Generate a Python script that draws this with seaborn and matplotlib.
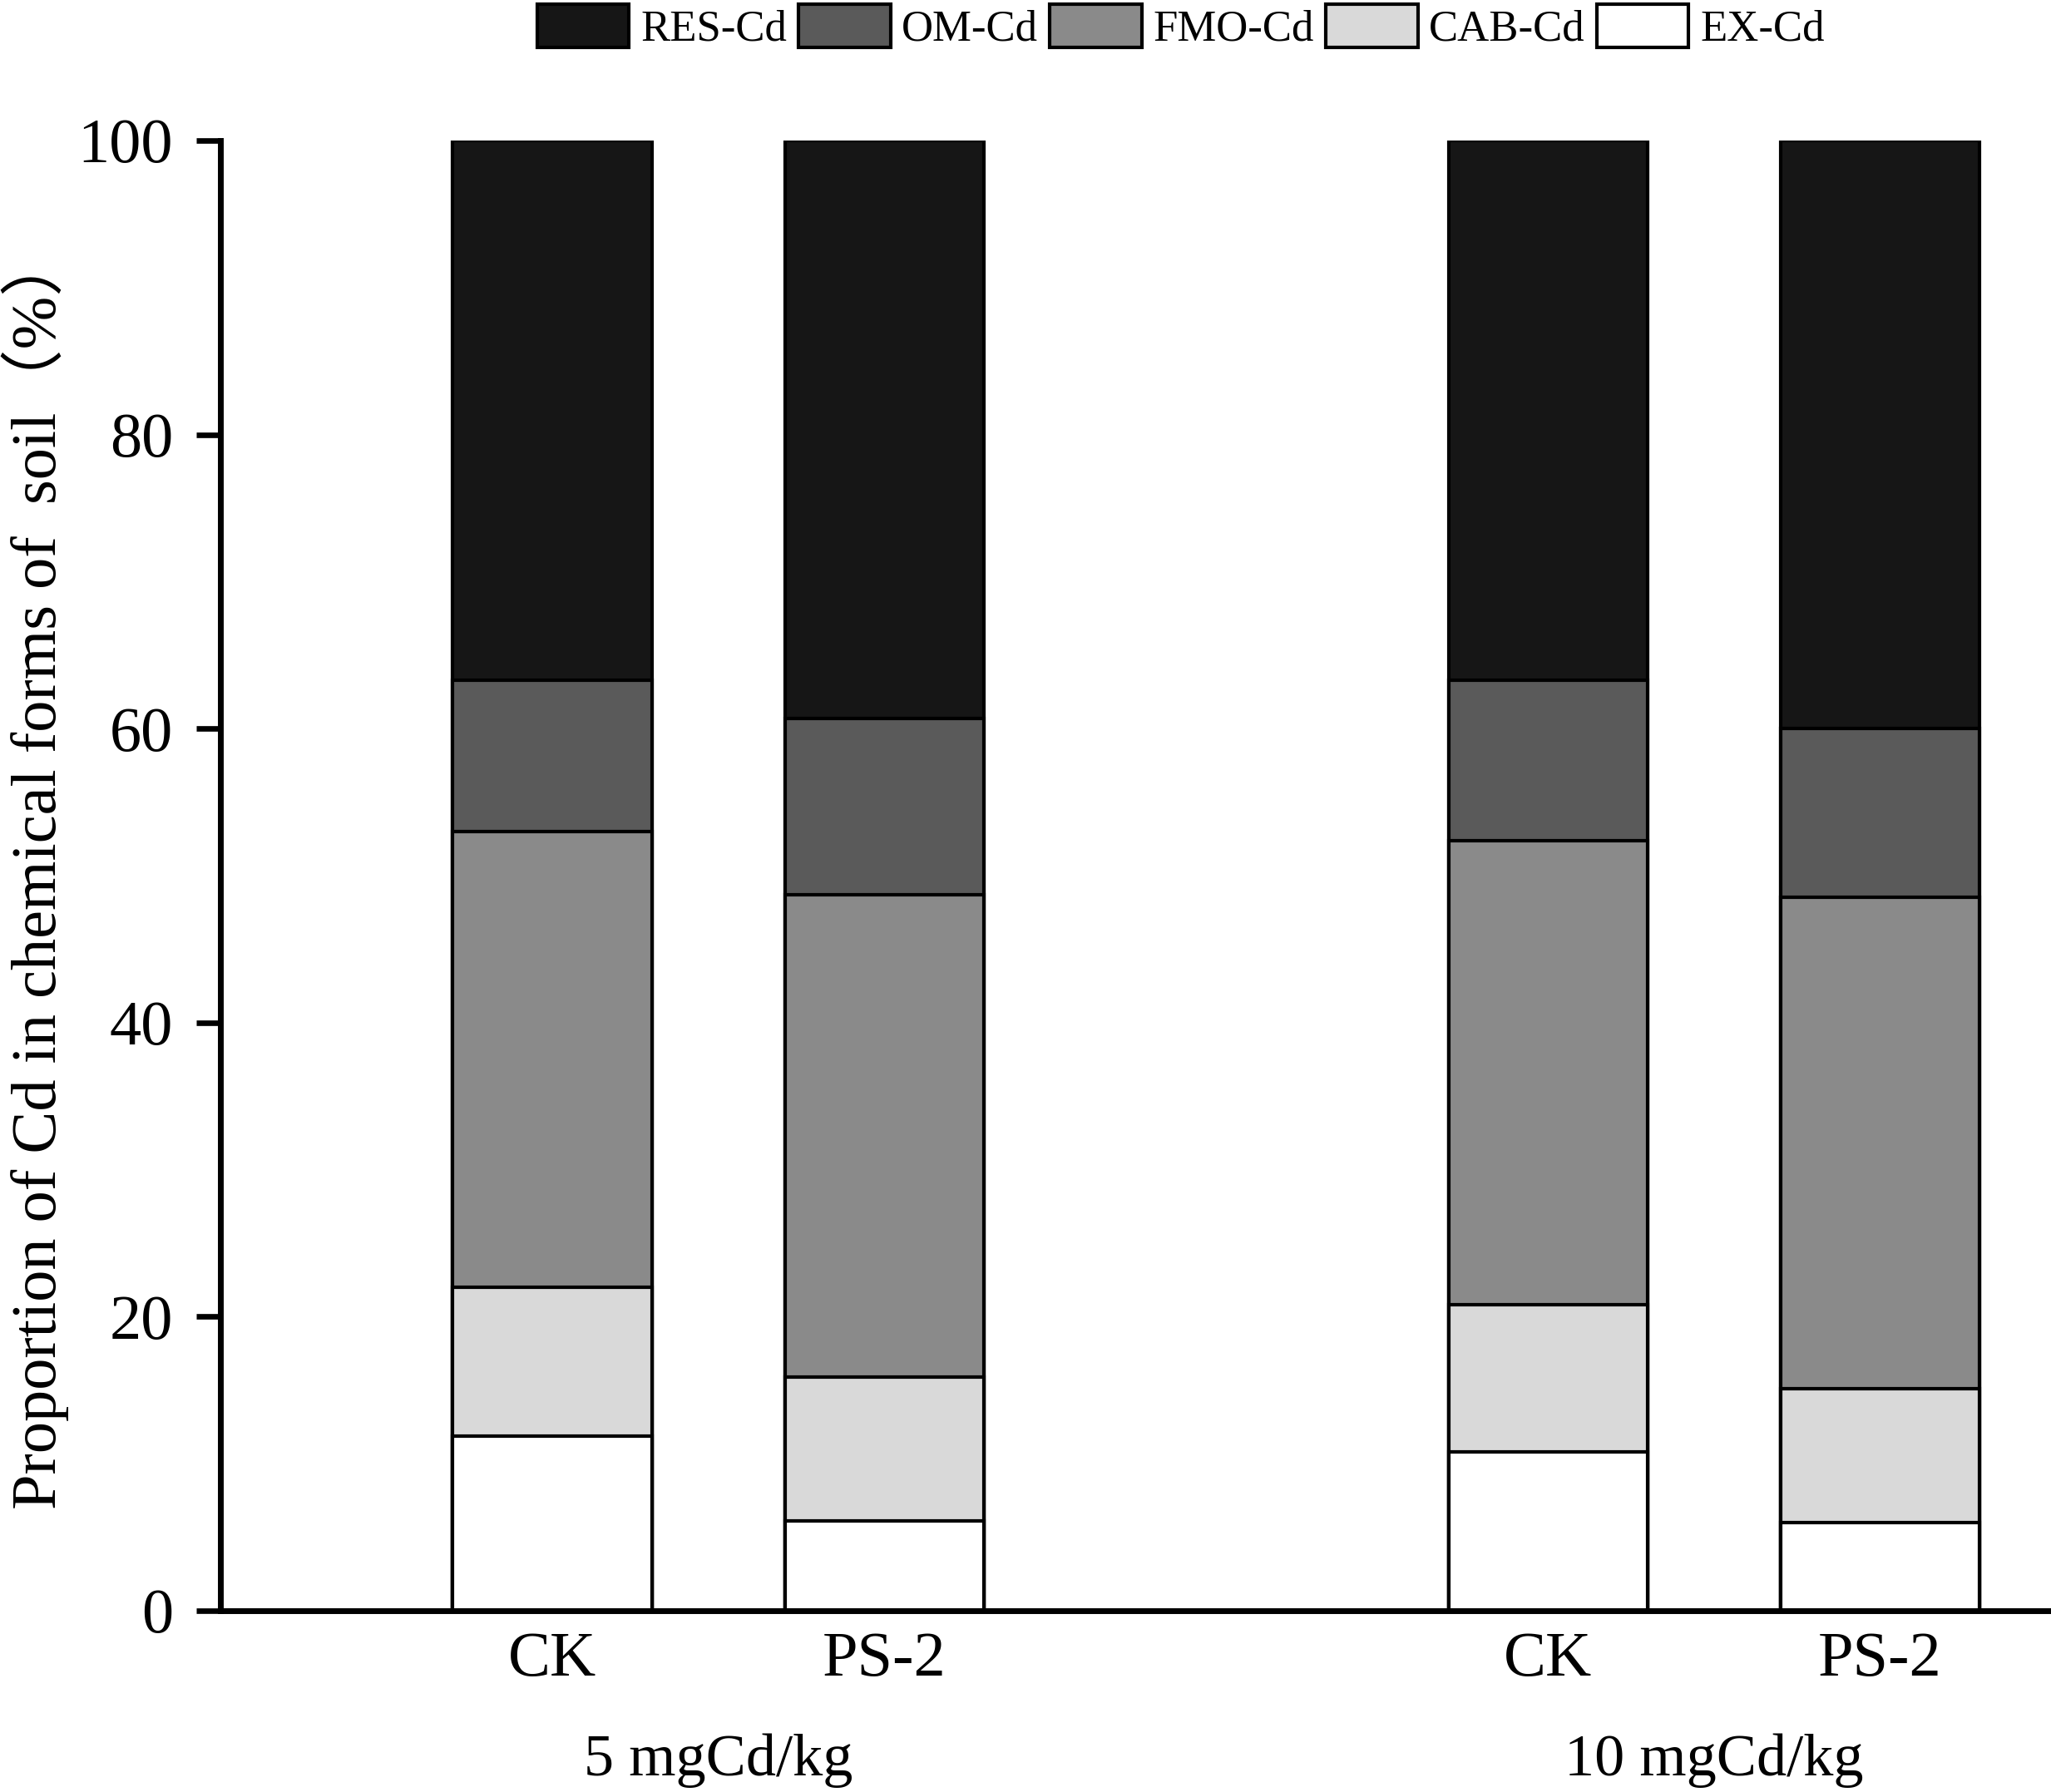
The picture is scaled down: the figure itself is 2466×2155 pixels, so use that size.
import matplotlib
matplotlib.use('Agg')
import numpy as np
import pandas as pd
import matplotlib.pyplot as plt
import matplotlib.transforms as mtransforms
from matplotlib.patches import Patch
import seaborn as sns

# data (percent of total soil Cd)
treatments = ['CK', 'PS-2', 'CK', 'PS-2']
doses = ['5 mgCd/kg', '10 mgCd/kg']
dose_of_bar = ['5 mgCd/kg', '5 mgCd/kg', '10 mgCd/kg', '10 mgCd/kg']
ex_cd = [11.9, 6.1, 10.8, 6.0]
cab_cd = [10.1, 9.8, 10.0, 9.1]
fmo_cd = [31.0, 32.8, 31.6, 33.4]
om_cd = [10.3, 12.0, 10.9, 11.5]
res_cd = [36.7, 39.3, 36.7, 40.0]
fractions = ['RES-Cd', 'OM-Cd', 'FMO-Cd', 'CAB-Cd', 'EX-Cd']

# layout / style
x_pos = [0, 1, 3, 4]
colors = {'RES-Cd': '#161616', 'OM-Cd': '#5a5a5a', 'FMO-Cd': '#8a8a8a',
          'CAB-Cd': '#d9d9d9', 'EX-Cd': '#ffffff'}

sns.set_style('ticks')
plt.rcParams['font.family'] = ['Liberation Serif', 'Noto Sans CJK SC']
for key in ['text.color', 'axes.labelcolor', 'xtick.color', 'ytick.color', 'axes.edgecolor']:
    plt.rcParams[key] = 'black'

# stacked tops, bottom -> top: EX, CAB, FMO, OM, RES
stack = np.array([ex_cd, cab_cd, fmo_cd, om_cd, res_cd])
tops = np.cumsum(stack, axis=0)
bottom_up = ['EX-Cd', 'CAB-Cd', 'FMO-Cd', 'OM-Cd', 'RES-Cd']
rows = []
for i, frac in enumerate(bottom_up):
    for j in range(len(treatments)):
        rows.append({'pos': x_pos[j], 'top': tops[i, j], 'fraction': frac,
                     'treatment': treatments[j], 'dose': dose_of_bar[j]})
df = pd.DataFrame(rows)

fig = plt.figure(figsize=(24.66, 21.55), dpi=100)
ax = fig.add_axes([0.1075, 0.1012, 0.8925, 0.8204])

# draw tallest (cumulative) first so lower fractions sit on top
for frac in fractions:
    sub = df[df['fraction'] == frac]
    sns.barplot(data=sub, x='pos', y='top', native_scale=True, width=0.6,
                color=colors[frac], saturation=1, edgecolor='black',
                linewidth=3, errorbar=None, ax=ax)

ax.set_xlim(-1.0, 4.515)
ax.set_ylim(0, 100)
ax.set_yticks([0, 20, 40, 60, 80, 100])
ax.set_xticks(x_pos)
ax.set_xticklabels(treatments)
ax.set_xlabel('')
ax.set_ylabel('')
ax.tick_params(axis='y', direction='out', length=21, width=4.8, pad=20, labelsize=55)
ax.tick_params(axis='x', length=0, pad=18, labelsize=55)
sns.despine(ax=ax, top=True, right=True)
for side in ['left', 'bottom']:
    ax.spines[side].set_linewidth(5)
    ax.spines[side].set_color('black')

# dose labels under each pair
trans = mtransforms.blended_transform_factory(ax.transData, fig.transFigure)
for k, dose in enumerate(doses):
    cx = (x_pos[2 * k] + x_pos[2 * k + 1]) / 2
    ax.text(cx, 0.0093, dose, transform=trans, ha='center', va='baseline', fontsize=52)

fig.text(0.017, 0.514, 'Proportion of Cd in chemical forms of  soil（%）',
         rotation=90, ha='center', va='center', fontsize=55)

handles = [Patch(facecolor=colors[f], edgecolor='black', linewidth=3) for f in fractions]
fig.legend(handles, fractions, loc='upper center', bbox_to_anchor=(0.5757, 1.011),
           ncol=5, frameon=False, fontsize=38, handlelength=2.1, handleheight=1.12,
           handletextpad=0.26, columnspacing=0.26, borderpad=0.05)

fig.savefig('out.png', dpi=100)
